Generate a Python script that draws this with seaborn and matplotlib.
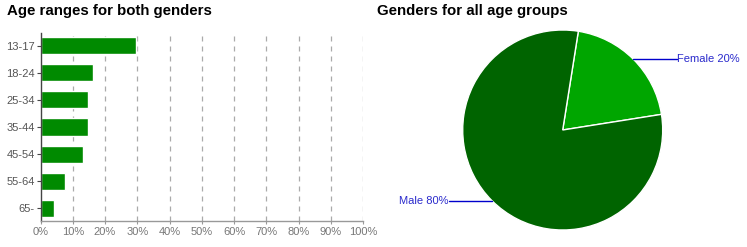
import matplotlib
matplotlib.use("Agg")
import matplotlib.pyplot as plt
import seaborn as sns
import numpy as np
import pandas as pd

age_groups = ["13-17", "18-24", "25-34", "35-44", "45-54", "55-64", "65-"]
age_share = [29.5, 16.3, 14.8, 14.7, 13.3, 7.7, 4.2]
genders = ["Female", "Male"]
gender_share = [20, 80]
x_ticks = list(range(0, 101, 10))
x_tick_labels = [f"{t}%" for t in x_ticks]

sns.set_theme(style="white")
plt.rcParams["font.family"] = ["Liberation Sans", "DejaVu Sans"]

W, H = 747, 247
fig = plt.figure(figsize=(W / 100, H / 100), dpi=100)

# ---- Bar chart ----
ax = fig.add_axes([40.5 / W, (H - 221) / H, (363 - 40.5) / W, (221 - 33) / H])
df = pd.DataFrame({"age": age_groups, "share": age_share})
sns.barplot(data=df, x="share", y="age", orient="h", color="#008a00",
            saturation=1, width=0.63, ax=ax)
ax.set_xlim(0, 100)
ax.set_ylim(len(age_groups) - 0.52, -0.48)
ax.set_xticks(x_ticks)
ax.set_xticklabels(x_tick_labels)
ax.set_xlabel("")
ax.set_ylabel("")
for t in x_ticks[1:]:
    ax.axvline(t, color="#aaaaaa", lw=0.9, ls=(0, (4, 4)), zorder=0)
for s in ["top", "right"]:
    ax.spines[s].set_visible(False)
ax.spines["left"].set_color("#444444")
ax.spines["left"].set_linewidth(1)
ax.spines["bottom"].set_color("#999999")
ax.spines["bottom"].set_linewidth(1)
ax.tick_params(axis="y", left=True, length=3, width=0.8, color="#444444",
               labelsize=8, labelcolor="#555555", pad=1)
ax.tick_params(axis="x", bottom=True, length=2.5, width=0.8, color="#999999",
               labelsize=8, labelcolor="#777777", pad=2)
ax.grid(False)

fig.text(7 / W, 1 - 15 / H, "Age ranges for both genders", fontsize=10.8,
         fontweight="bold", color="black", ha="left", va="baseline")

# ---- Pie chart ----
cx, cy, r = 562.7, 130, 100
pax = fig.add_axes([(cx - r) / W, (H - cy - r) / H, 2 * r / W, 2 * r / H])
wedges, _ = pax.pie(gender_share, colors=["#00a600", "#006400"],
                    startangle=81, counterclock=False,
                    wedgeprops=dict(edgecolor="white", linewidth=1))
pax.set_xlim(-1, 1)
pax.set_ylim(-1, 1)
pax.set_aspect("equal")

label_color = "#2a2acc"
line_color = "#0000cc"
for w, g, v in zip(wedges, genders, gender_share):
    mid = np.deg2rad((w.theta1 + w.theta2) / 2)
    px, py = np.cos(mid), np.sin(mid)
    side = 1 if px > 0 else -1
    tx = side * 1.14
    pax.plot([px, tx], [py, py], color=line_color, lw=1, clip_on=False)
    pax.text(tx + side * 0.005, py, f"{g} {v}%", color=label_color, fontsize=8,
             ha="left" if side > 0 else "right", va="center", clip_on=False)

fig.text(377 / W, 1 - 15 / H, "Genders for all age groups", fontsize=10.8,
         fontweight="bold", color="black", ha="left", va="baseline")

fig.savefig("out.png", dpi=100)
